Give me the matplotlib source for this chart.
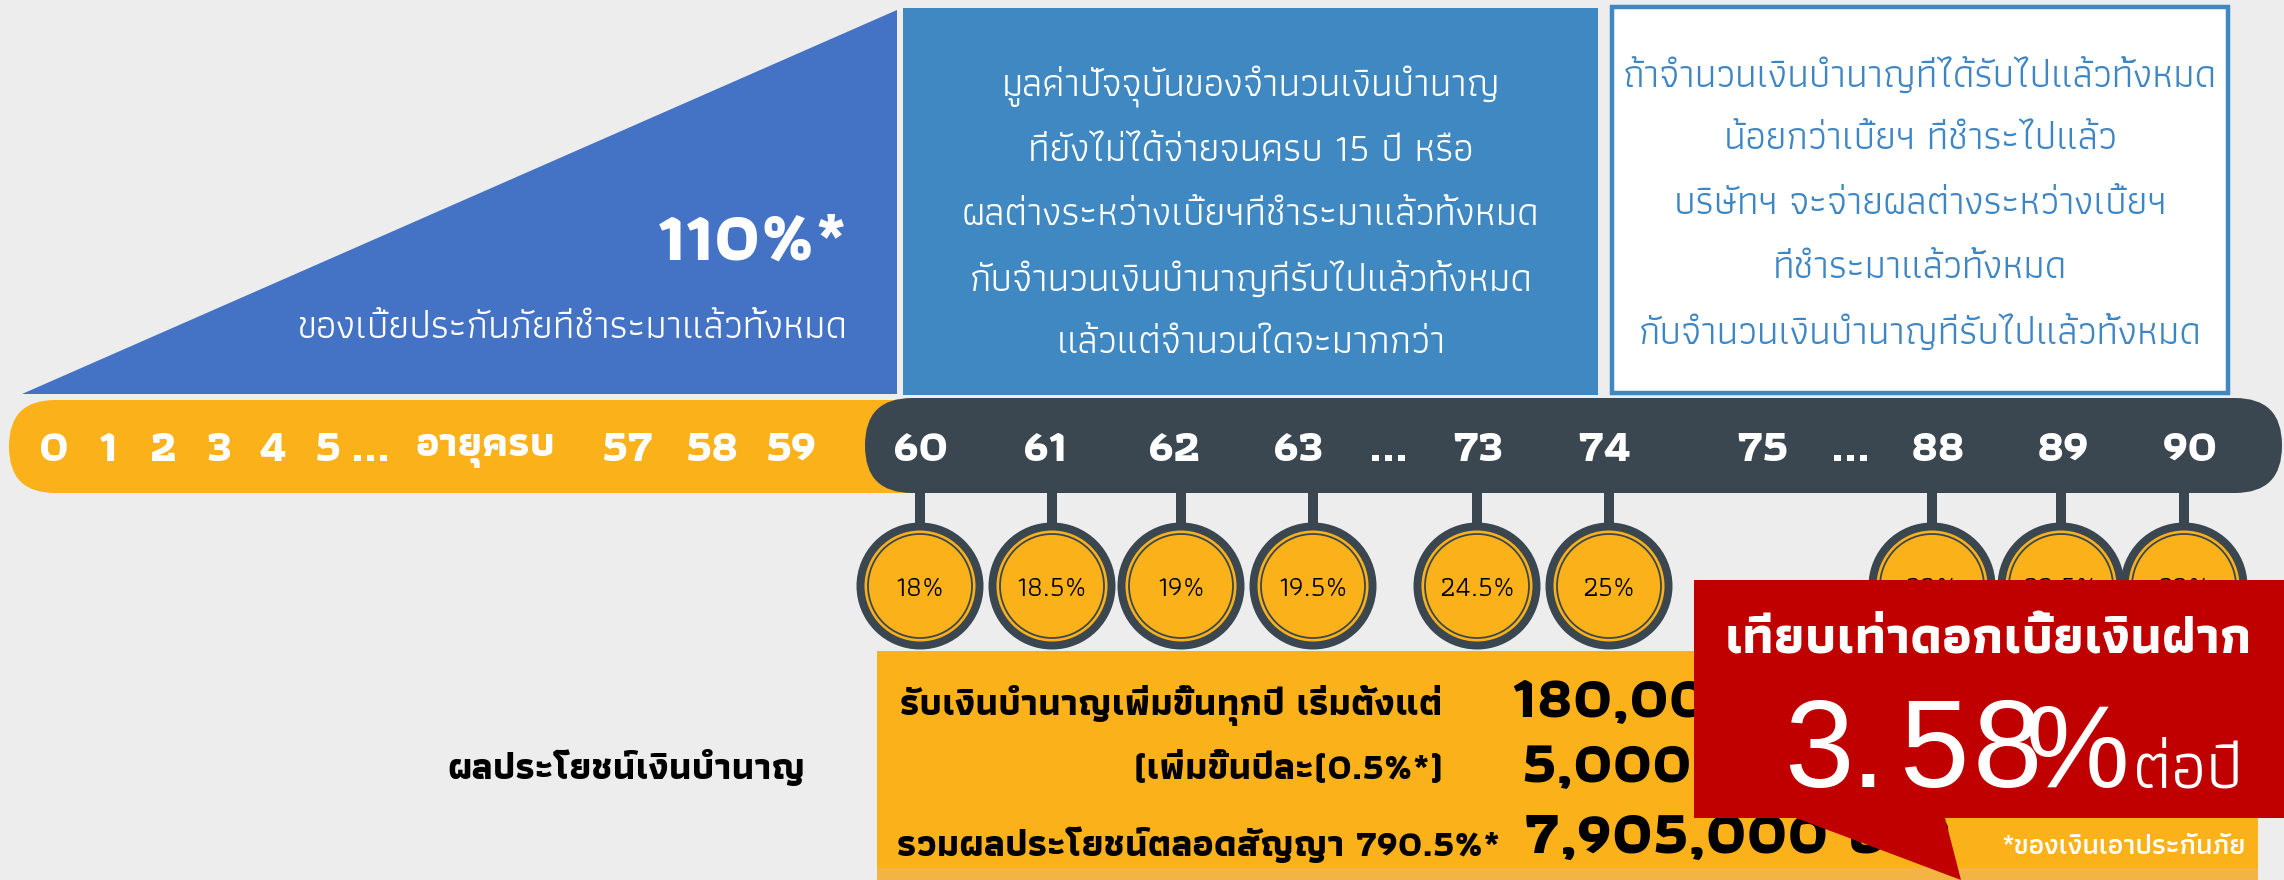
import matplotlib
matplotlib.use('Agg')
import matplotlib.pyplot as plt
from matplotlib import font_manager
from matplotlib.patches import Polygon, Ellipse, FancyBboxPatch, Rectangle

plt.rcParams['font.family'] = ['Athiti', 'Kanit', 'DejaVu Sans']

# ---------------------------------------------------------------------------
# data
# ---------------------------------------------------------------------------
early_ages = ['0', '1', '2', '3', '4', '5', '...', 'อายุครบ', '57', '58', '59']
pension_ages = ['60', '61', '62', '63', '...', '73', '74', '75', '...', '88', '89', '90']
circle_ages = ['60', '61', '62', '63', '73', '74', '88', '89', '90']
pension_pct = [18, 18.5, 19, 19.5, 24.5, 25, 32, 32.5, 33]

death_pct = '110%*'
death_note = 'ของเบี้ยประกันภัยที่ชำระมาแล้วทั้งหมด'
mid_lines = ['มูลค่าปัจจุบันของจำนวนเงินบำนาญ',
             'ที่ยังไม่ได้จ่ายจนครบ 15 ปี หรือ',
             'ผลต่างระหว่างเบี้ยฯที่ชำระมาแล้วทั้งหมด',
             'กับจำนวนเงินบำนาญที่รับไปแล้วทั้งหมด',
             'แล้วแต่จำนวนใดจะมากกว่า']
right_lines = ['ถ้าจำนวนเงินบำนาญที่ได้รับไปแล้วทั้งหมด',
               'น้อยกว่าเบี้ยฯ ที่ชำระไปแล้ว',
               'บริษัทฯ จะจ่ายผลต่างระหว่างเบี้ยฯ',
               'ที่ชำระมาแล้วทั้งหมด',
               'กับจำนวนเงินบำนาญที่รับไปแล้วทั้งหมด']
benefit_title = 'ผลประโยชน์เงินบำนาญ'
benefit_labels = ['รับเงินบำนาญเพิ่มขึ้นทุกปี เริ่มตั้งแต่',
                  '(เพิ่มขึ้นปีละ(0.5%*)',
                  'รวมผลประโยชน์ตลอดสัญญา 790.5%*']
benefit_amounts = ['180,000 บาท', '5,000 บาท', '7,905,000 บาท']
rate_title = 'เทียบเท่าดอกเบี้ยเงินฝาก'
rate_value = '3.58%'
rate_unit = 'ต่อปี'
footnote = '*ของเงินเอาประกันภัย'

# ---------------------------------------------------------------------------
# layout (pixel coordinates, origin top-left)
# ---------------------------------------------------------------------------
W, H = 2284, 880
BG = '#ECEDEC'
BLUE1 = '#4472C4'
BLUE2 = '#4088C1'
YELLOW = '#FBB11A'
DARK = '#3B4750'
RED = '#C00000'

early_x = [54, 108, 164, 219, 273, 328, 371, 485, 628, 713, 792]
pension_x = [921, 1045, 1174, 1298, 1389, 1478, 1604, 1762, 1850, 1938, 2063, 2190]
circle_x = [920, 1052, 1181, 1313, 1477, 1609, 1932, 2061, 2184]
label_y = 450
circle_y, circle_d = 586, 127

# big amounts are set in a narrow face when one is available
installed = {f.name for f in font_manager.fontManager.ttflist}
if 'Liberation Sans Narrow' in installed:
    num_family = ['Liberation Sans Narrow', 'Athiti', 'DejaVu Sans']
    amount_size = [47, 47, 51]
else:
    num_family = ['Athiti', 'Kanit', 'DejaVu Sans']
    amount_size = [43.5, 43.5, 45]

fig = plt.figure(figsize=(W / 100, H / 100), dpi=100)
fig.patch.set_facecolor(BG)
ax = fig.add_axes([0, 0, 1, 1])
ax.set_xlim(0, W)
ax.set_ylim(H, 0)
ax.axis('off')

# top: triangle and the two boxes
ax.add_patch(Polygon([(22, 394), (897, 10), (897, 394)], closed=True, color=BLUE1, lw=0))
ax.text(848, 243, death_pct, color='white', fontsize=51, fontweight='bold', ha='right', va='center')
ax.text(848, 328, death_note, color='white', fontsize=28, ha='right', va='center')

ax.add_patch(Rectangle((903, 8), 695, 387, color=BLUE2, lw=0))
for i, line in enumerate(mid_lines):
    ax.text(1251, 87 + i * 64, line, color='white', fontsize=28, ha='center', va='center')

ax.add_patch(Rectangle((1612, 7), 616, 386, facecolor='white', edgecolor=BLUE2, lw=3.2))
for i, line in enumerate(right_lines):
    ax.text(1920, 75 + i * 64.3, line, color='#3E86C3', fontsize=28, ha='center', va='center')

# timeline bars
ax.add_patch(FancyBboxPatch((9, 400), 950, 93, boxstyle='round,pad=0,rounding_size=46', color=YELLOW, lw=0))
ax.add_patch(FancyBboxPatch((865, 398), 1417, 95, boxstyle='round,pad=0,rounding_size=47', color=DARK, lw=0))
for lab, x in zip(early_ages + pension_ages, early_x + pension_x):
    fs = 33 if lab.isascii() else 30
    ax.text(x, label_y, lab, color='white', fontsize=fs, fontweight='bold', ha='center', va='center')

# hanging circles
for age, pct, x in zip(circle_ages, pension_pct, circle_x):
    ax.add_patch(Rectangle((x - 5, 490), 10, 40, color=DARK, lw=0))
    ax.add_patch(Ellipse((x, circle_y), circle_d, circle_d, color=DARK, lw=0))
    ax.add_patch(Ellipse((x, circle_y), circle_d - 16, circle_d - 16, color=YELLOW, lw=0))
    ax.add_patch(Ellipse((x, circle_y), circle_d - 23, circle_d - 23, facecolor='none', edgecolor=DARK, lw=1.3))
    ax.text(x, circle_y + 2, f'{pct:g}%', color='black', fontsize=20.5, ha='center', va='center')

# benefit panel
ax.add_patch(Rectangle((877, 651), 1381, 229, color=YELLOW, lw=0))
ax.add_patch(Rectangle((877, 868), 1381, 12, color='#F4B445', lw=0))
ax.text(626, 767, benefit_title, color='black', fontsize=27, fontweight='bold', ha='center', va='center')
label_y_list = [705, 769, 845]
label_right = [1443, 1443, 1500]
amount_x = [1512, 1522, 1524]
amount_y = [702, 768, 838]
for lab, amt, y, xr, xa, ya, fs in zip(benefit_labels, benefit_amounts, label_y_list, label_right,
                                       amount_x, amount_y, amount_size):
    ax.text(xr, y, lab, color='black', fontsize=27, fontweight='bold', ha='right', va='center')
    ax.text(xa, ya, amt, color='black', fontsize=fs, fontweight='bold', family=num_family,
            ha='left', va='center')

# red callout
ax.add_patch(Polygon([(1694, 580), (W, 580), (W, 818), (1945, 818), (1961, 880), (1796, 818), (1694, 818)],
                     closed=True, color=RED, lw=0, zorder=5))
ax.text(1988, 641, rate_title, color='white', fontsize=37.5, fontweight='bold', ha='center', va='center', zorder=6)
# wide tracking on the big number
rate_char_x = [1819, 1868, 1934, 2007, 2078]
rate_char_fs = [90, 90, 90, 90, 84]
for ch, x, fs in zip(rate_value, rate_char_x, rate_char_fs):
    ax.text(x, 787, ch, color='white', fontsize=fs, family='Liberation Sans', ha='center', va='baseline', zorder=6)
ax.text(2188, 787, rate_unit, color='white', fontsize=48, ha='center', va='baseline', zorder=6)
ax.text(2124, 846, footnote, color='white', fontsize=20.5, fontweight='semibold', ha='center', va='center', zorder=6)

fig.savefig('out.png', dpi=100, facecolor=BG)
